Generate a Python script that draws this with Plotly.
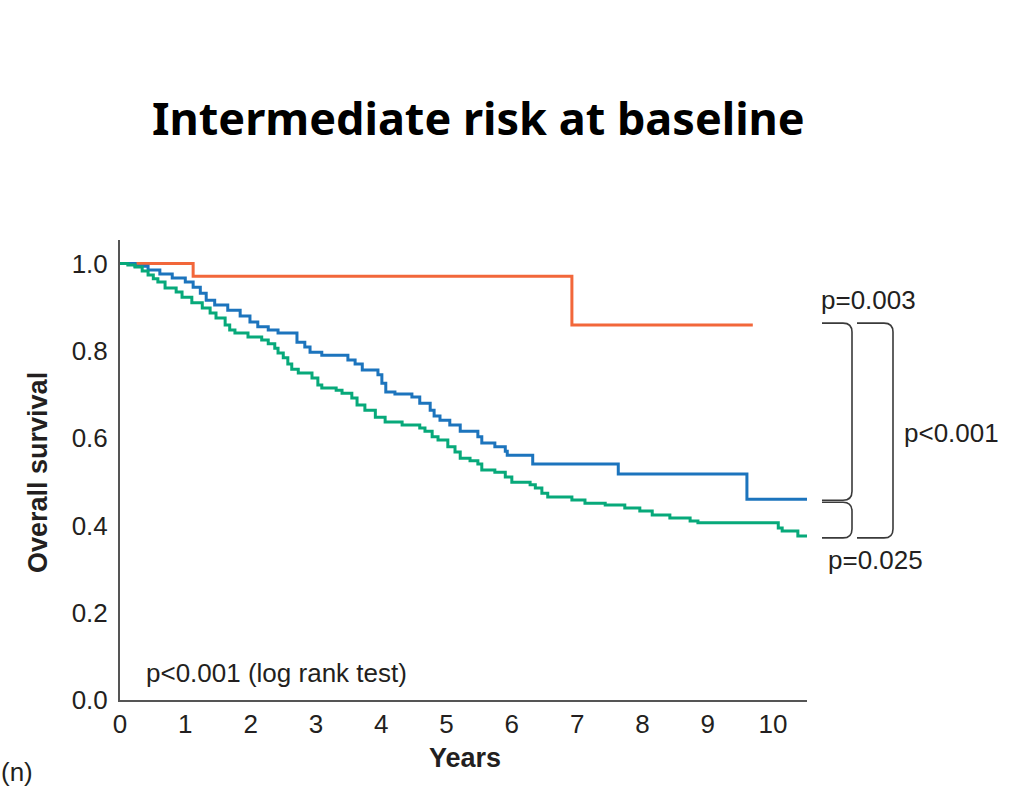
import plotly.graph_objects as go

# Kaplan-Meier step curves: event times (years) and survival after each step
orange_t = [0.0, 1.12, 6.92]
orange_s = [1.000, 0.971, 0.859]
orange_end = 9.69

blue_t = [0.0, 0.23, 0.43, 0.61, 0.80, 1.00, 1.12, 1.23, 1.32, 1.45, 1.65, 1.84,
          1.99, 2.11, 2.27, 2.42, 2.71, 2.83, 2.91, 3.09, 3.49, 3.60, 3.71, 3.95,
          4.01, 4.07, 4.21, 4.47, 4.59, 4.75, 4.81, 4.90, 5.05, 5.21, 5.48, 5.54,
          5.74, 5.90, 5.93, 6.32, 7.63, 9.60]
blue_s = [1.000, 0.994, 0.985, 0.976, 0.967, 0.958, 0.946, 0.932, 0.916, 0.905, 0.893, 0.880,
          0.866, 0.855, 0.848, 0.841, 0.820, 0.809, 0.797, 0.790, 0.779, 0.770, 0.756, 0.745,
          0.726, 0.706, 0.701, 0.694, 0.680, 0.664, 0.651, 0.641, 0.630, 0.616, 0.603, 0.589,
          0.580, 0.570, 0.561, 0.541, 0.518, 0.460]
blue_end = 10.52

green_t = [0.0, 0.12, 0.23, 0.34, 0.43, 0.51, 0.58, 0.69, 0.86, 0.95, 1.10, 1.26,
           1.38, 1.47, 1.61, 1.68, 1.76, 1.96, 2.17, 2.27, 2.37, 2.42, 2.50, 2.57,
           2.63, 2.73, 2.94, 3.03, 3.09, 3.31, 3.40, 3.55, 3.63, 3.75, 3.91, 4.06,
           4.32, 4.59, 4.67, 4.78, 4.87, 5.02, 5.13, 5.21, 5.36, 5.48, 5.54, 5.74,
           5.90, 6.00, 6.28, 6.36, 6.46, 6.55, 6.92, 7.12, 7.43, 7.73, 7.96, 8.15,
           8.42, 8.73, 8.85, 10.08, 10.14, 10.38]
green_s = [1.000, 0.997, 0.992, 0.983, 0.974, 0.965, 0.958, 0.944, 0.935, 0.923, 0.910, 0.898,
           0.887, 0.875, 0.859, 0.848, 0.841, 0.832, 0.825, 0.816, 0.806, 0.795, 0.784, 0.770,
           0.758, 0.749, 0.738, 0.722, 0.715, 0.710, 0.703, 0.692, 0.676, 0.664, 0.648, 0.637,
           0.630, 0.623, 0.616, 0.603, 0.596, 0.580, 0.568, 0.554, 0.548, 0.541, 0.527, 0.522,
           0.511, 0.499, 0.493, 0.486, 0.474, 0.465, 0.458, 0.451, 0.447, 0.440, 0.433, 0.424,
           0.417, 0.410, 0.406, 0.394, 0.387, 0.376]
green_end = 10.52

x_ticks = [0, 1, 2, 3, 4, 5, 6, 7, 8, 9, 10]
y_ticks = [0.0, 0.2, 0.4, 0.6, 0.8, 1.0]

ORANGE = "#F2673A"
BLUE = "#1C74BD"
GREEN = "#07A97A"
TEXT = "#231F20"
AXIS = "#555555"

X_MAX = 10.52
Y_MAX = 1.054

# page geometry of the plotting area
W, H = 1025, 786
ML, MR, MT, MB = 120, 218, 240, 86
PW, PH = W - ML - MR, H - MT - MB


def paper(px, py):
    """Page pixel -> paper coordinates."""
    return (px - ML) / PW, (H - MB - py) / PH


def s_paper(s):
    return s / Y_MAX


fig = go.Figure()
for t, s, end, col in [(orange_t, orange_s, orange_end, ORANGE),
                       (blue_t, blue_s, blue_end, BLUE),
                       (green_t, green_s, green_end, GREEN)]:
    fig.add_trace(go.Scatter(x=t + [end], y=s + [s[-1]], mode="lines",
                             line=dict(color=col, width=3, shape="hv"),
                             hoverinfo="skip", showlegend=False))

FAMILY = "Liberation Sans, Arial, sans-serif"
tick_font = dict(family=FAMILY, size=26, color=TEXT)
fig.update_xaxes(range=[0, X_MAX], tickvals=x_ticks, ticktext=[str(v) for v in x_ticks],
                 showgrid=False, zeroline=False, showline=True, linecolor=AXIS, linewidth=2,
                 ticks="outside", ticklen=0, tickcolor="rgba(0,0,0,0)", tickfont=tick_font)
fig.update_yaxes(range=[0, Y_MAX], tickvals=y_ticks, ticktext=[f"{v:.1f}" for v in y_ticks],
                 showgrid=False, zeroline=False, showline=True, linecolor=AXIS, linewidth=2,
                 ticks="outside", ticklen=5, tickcolor="rgba(0,0,0,0)", tickfont=tick_font)


def bracket(x0, x1, top, bot, r=9):
    """Right-facing square bracket with rounded corners, in paper coords."""
    rx, ry = r / PW, r / PH
    return (f"M {x0},{top} L {x1 - rx},{top} Q {x1},{top} {x1},{top - ry} "
            f"L {x1},{bot + ry} Q {x1},{bot} {x1 - rx},{bot} L {x0},{bot}")


gap = 2 / PH
ix0, _ = paper(822, 0)
ix1, _ = paper(852, 0)
ox0, _ = paper(857, 0)
ox1, _ = paper(893, 0)
top = s_paper(orange_s[-1]) + gap
mid = s_paper(blue_s[-1])
bot = s_paper(green_s[-1]) - gap
line = dict(color="#3a3a3a", width=1.6)
for path in [bracket(ix0, ix1, top, mid - gap * 0.5),
             bracket(ix0, ix1, mid - gap * 1.5, bot),
             bracket(ox0, ox1, top, bot)]:
    fig.add_shape(type="path", path=path, xref="paper", yref="paper", line=line)


def note(text, px, py, xanchor="center", size=26, angle=0, bold=False,
         family=FAMILY, color=TEXT):
    x, y = paper(px, py)
    fig.add_annotation(text=f"<b>{text}</b>" if bold else text, x=x, y=y,
                       xref="paper", yref="paper", xanchor=xanchor, yanchor="middle",
                       showarrow=False, textangle=angle,
                       font=dict(family=family, size=size, color=color))


note("Intermediate risk at baseline", 478, 117, size=45, bold=True,
     family="Noto Sans, Open Sans, sans-serif", color="#000000")
note("Overall survival", 38, 473, angle=-90, bold=True, size=27)
note("Years", 465, 758, bold=True, size=27)
note("p&lt;0.001 (log rank test)", 144, 673, xanchor="left")
note("p=0.003", 868, 300)
note("p&lt;0.001", 902, 433, xanchor="left")
note("p=0.025", 876, 560)
note("(n)", -1, 772, xanchor="left")

fig.update_layout(width=W, height=H, margin=dict(l=ML, r=MR, t=MT, b=MB),
                  paper_bgcolor="white", plot_bgcolor="white", showlegend=False)

fig.write_html("out.html")
